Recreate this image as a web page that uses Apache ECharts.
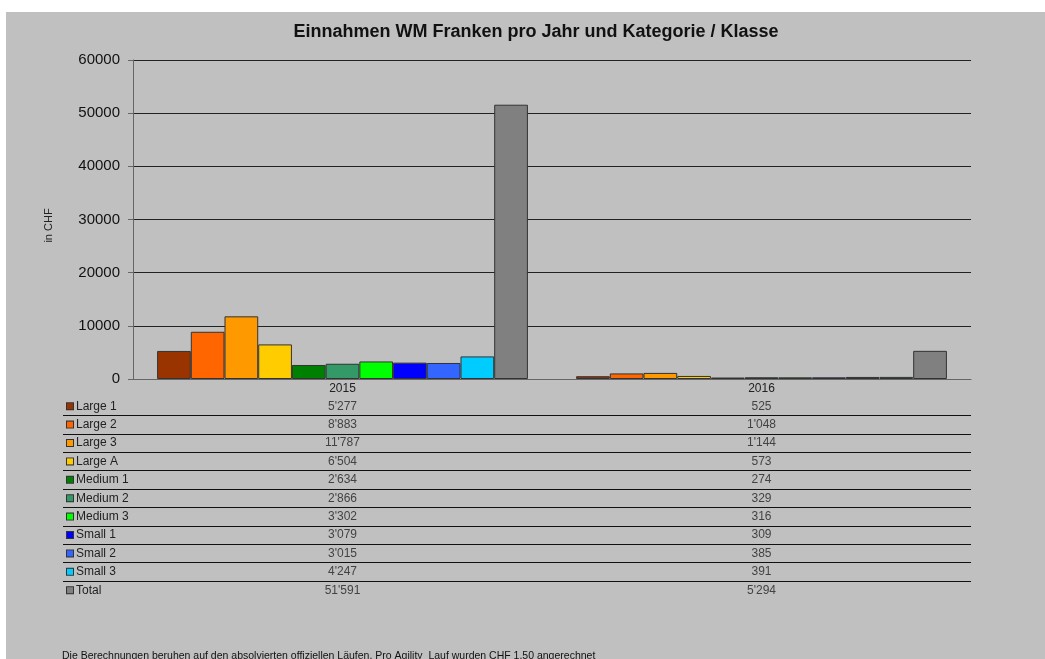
<!DOCTYPE html>
<html>
<head>
<meta charset="utf-8">
<script src="https://cdn.jsdelivr.net/npm/echarts@6/dist/echarts.min.js"></script>
<style>
html,body{margin:0;padding:0;background:#fff;}
#chart{width:1045px;height:659px;}
</style>
</head>
<body>
<div id="chart"></div>
<script>
const years = ['2015', '2016'];
const seriesNames = ['Large 1','Large 2','Large 3','Large A','Medium 1','Medium 2','Medium 3','Small 1','Small 2','Small 3','Total'];
const values2015 = [5277, 8883, 11787, 6504, 2634, 2866, 3302, 3079, 3015, 4247, 51591];
const values2016 = [525, 1048, 1144, 573, 274, 329, 316, 309, 385, 391, 5294];
const colors = ['#993300','#FF6600','#FF9900','#FFCC00','#008000','#339966','#00FF00','#0000FF','#3366FF','#00CCFF','#808080'];
const yTicks = [0, 10000, 20000, 30000, 40000, 50000, 60000];

const fmt = n => String(n).replace(/\B(?=(\d{3})+(?!\d))/g, "'");
const FONT = '"Liberation Sans", Arial, sans-serif';

const chart = echarts.init(document.getElementById('chart'), null, {renderer: 'canvas'});

const barSeries = seriesNames.map((name, i) => ({
  name: name,
  type: 'bar',
  xAxisIndex: 0,
  yAxisIndex: 0,
  barGap: '0%',
  barCategoryGap: '11.5%',
  data: [values2015[i], values2016[i]],
  itemStyle: {color: colors[i], borderColor: '#333', borderWidth: 1},
  emphasis: {disabled: true}
}));

const tableData = [];
seriesNames.forEach((name, i) => {
  tableData.push([0.5, name, values2015[i]]);
  tableData.push([1.5, name, values2016[i]]);
});

const rich = {};
seriesNames.forEach((n, i) => {
  rich['c' + i] = {backgroundColor: colors[i], borderColor: '#333', borderWidth: 1, width: 6, height: 6};
});
rich.t = {fontSize: 12, fontFamily: FONT, color: '#222', padding: [0, 0, 0, 3]};

chart.setOption({
  backgroundColor: '#C0C0C0',
  animation: false,
  title: [
    {text: 'Einnahmen WM Franken pro Jahr und Kategorie / Klasse', left: 531, top: 18, textAlign: 'center',
     textStyle: {fontSize: 18, fontWeight: 'bold', fontFamily: FONT, color: '#111'}},
    {text: 'Die Berechnungen beruhen auf den absolvierten offiziellen Läufen. Pro Agility  Lauf wurden CHF 1.50 angerechnet',
     left: 57, top: 646, textStyle: {fontSize: 10.5, fontWeight: 'normal', fontFamily: FONT, color: '#111'}}
  ],
  graphic: [
    {type: 'rect', shape: {x: 0, y: 0, width: 1045, height: 12}, style: {fill: '#fff'}, z: 100, silent: true},
    {type: 'rect', shape: {x: 0, y: 0, width: 6, height: 659}, style: {fill: '#fff'}, z: 100, silent: true}
  ],
  grid: [
    {left: 133, right: 74, top: 60, height: 319, containLabel: false},
    {left: 63, right: 74, top: 397, height: 202.4, containLabel: false}
  ],
  xAxis: [
    {type: 'category', gridIndex: 0, data: years,
     axisLine: {show: true, lineStyle: {color: '#666', width: 1}},
     axisTick: {show: false},
     axisLabel: {fontSize: 12, fontFamily: FONT, color: '#222', margin: 4},
     splitLine: {show: false}},
    {type: 'value', gridIndex: 1, min: -70 / 419, max: 2, show: false}
  ],
  yAxis: [
    {type: 'value', gridIndex: 0, min: yTicks[0], max: yTicks[yTicks.length - 1], interval: 10000,
     name: 'in CHF', nameLocation: 'middle', nameRotate: 90, nameGap: 79,
     nameTextStyle: {fontSize: 11, fontFamily: FONT, color: '#222', padding: [0, 12, 0, 0]},
     axisLine: {show: true, lineStyle: {color: '#666', width: 1}},
     axisTick: {show: true, length: 5, lineStyle: {color: '#666'}},
     axisLabel: {fontSize: 15, fontFamily: FONT, color: '#111', margin: 13, formatter: v => String(v)},
     splitLine: {show: true, lineStyle: {color: '#222', width: 1}}},
    {type: 'category', gridIndex: 1, data: seriesNames, inverse: true,
     axisLine: {show: false}, axisTick: {show: false},
     axisLabel: {inside: true, margin: 4, fontSize: 12, fontFamily: FONT, color: '#222',
       formatter: (v, idx) => '{c' + idx + '|}{t|' + v + '}', rich: rich},
     splitLine: {show: true, showMinLine: false, showMaxLine: false, lineStyle: {color: '#111', width: 1}}}
  ],
  series: barSeries.concat([{
    type: 'scatter',
    xAxisIndex: 1,
    yAxisIndex: 1,
    symbol: 'rect',
    symbolSize: 1,
    itemStyle: {color: 'rgba(0,0,0,0)'},
    data: tableData,
    label: {show: true, position: 'inside', fontSize: 12, fontFamily: FONT, color: '#222',
      formatter: p => fmt(p.data[2])},
    emphasis: {disabled: true}
  }])
});
</script>
</body>
</html>
